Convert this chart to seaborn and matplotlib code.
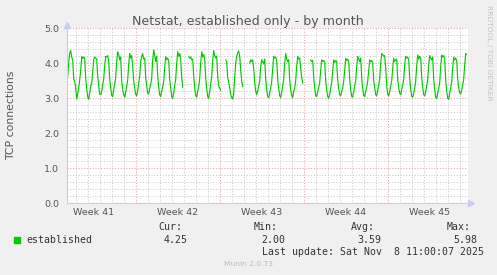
import numpy as np
import pandas as pd
import seaborn as sns
import matplotlib.pyplot as plt
from matplotlib.patches import Rectangle
from matplotlib.ticker import FixedLocator, MultipleLocator

n = np.nan
# 2-hourly averages of established TCP connections (first sample Tue 06:00, week 41)
week41 = [3.45, 3.62, 4.02, 4.30, 4.36, 4.18, 4.10, 3.55, 3.48,
          3.30, 2.98, 3.12, 3.30, 3.52, 3.80, 4.19, 4.14, 4.18, 4.15, 3.57, 3.28,
          3.05, 2.97, 3.15, 3.35, 3.42, 3.75, 4.10, 4.18, 4.15, 4.12, 3.62, 3.35,
          3.12, 3.10, 3.20, 3.38, 3.55, 3.95, 4.20, 4.18, 4.22, 4.05, 3.55, 3.30,
          3.08, 3.05, 3.25, 3.40, 3.60, 4.05, 4.33, 4.25, 4.10, 4.18, 3.50, 3.25,
          3.10, 3.03, 3.18, 3.35, 3.52, 3.98, 4.28, 4.15, 4.22, 3.90, 3.50, 3.28]
week42 = [3.12, 3.07, 3.22, 3.45, 3.62, 4.05, 4.20, 4.28, 4.12, 4.15, 3.58, 3.35,
          3.15, 3.12, 3.28, 3.40, 3.58, 4.10, 4.38, 4.22, 4.05, 4.20, 3.65, 3.32,
          3.10, 3.05, 3.20, 3.32, 3.48, 3.88, 4.19, 4.10, 4.15, 4.08, 3.55, 3.30,
          3.05, 3.00, 3.15, 3.38, 3.55, 4.00, 4.33, 4.20, 4.28, 4.10, 3.60, 3.31,
          n, n, n, n, n, 4.20, 4.15, 4.18, 4.10, 4.12, 3.62, 3.30,
          3.08, 3.03, 3.20, 3.35, 3.55, 4.02, 4.33, 4.18, 4.25, 4.12, 3.58, 3.28,
          3.05, 3.00, 3.18, 3.42, 3.60, 4.08, 4.36, 4.22, 4.15, 4.20, 3.62, 3.35]
week43 = [3.30, 3.22, n, n, n, n, 4.10, 4.05, 3.60, 3.45, 3.30, 3.10,
          3.02, 2.98, 3.15, 3.60, 4.00, 4.20, 4.30, 4.35, 4.20, 3.80, 3.50, 3.33,
          n, n, n, n, n, n, 4.00, 4.10, 4.05, 4.10, 3.85, 3.45,
          3.20, 3.10, 3.22, 3.35, 3.50, 3.90, 4.10, 4.05, 3.98, 4.12, 3.55, 3.25,
          3.05, 3.02, 3.15, 3.30, 3.48, 3.85, 4.20, 4.15, 4.18, 4.08, 3.55, 3.28,
          3.08, 3.02, 3.18, 3.35, 3.55, 4.00, 4.28, 4.12, 4.05, 4.10, 3.52, 3.25,
          3.08, 3.02, 3.20, 3.30, 3.50, 3.92, 4.20, 4.12, 4.15, 3.85, 3.60, 3.43]
week44 = [n, n, n, n, n, n, n, 4.10, 4.05, 4.08, 3.60, 3.30,
          3.07, 3.05, 3.18, 3.30, 3.45, 3.80, 4.10, 4.05, 4.08, 4.02, 3.50, 3.25,
          3.05, 3.00, 3.12, 3.28, 3.45, 3.78, 4.10, 4.02, 4.08, 4.05, 3.52, 3.28,
          3.10, 3.07, 3.20, 3.30, 3.48, 3.82, 4.14, 4.08, 4.12, 4.05, 3.55, 3.25,
          3.05, 3.03, 3.18, 3.35, 3.50, 3.90, 4.20, 4.12, 4.05, 4.15, 3.58, 3.28,
          3.08, 3.05, 3.20, 3.32, 3.48, 3.80, 4.10, 4.05, 4.08, 4.00, 3.50, 3.30,
          3.10, 3.07, 3.22, 3.38, 3.55, 4.00, 4.28, 4.25, 4.20, 4.22, 3.85, 3.35]
week45 = [3.12, 3.07, 3.20, 3.35, 3.50, 3.85, 4.14, 4.05, 4.10, 4.12, 3.55, 3.30,
          3.15, 3.10, 3.25, 3.38, 3.55, 3.95, 4.20, 4.15, 4.18, 4.10, 3.55, 3.28,
          3.05, 3.03, 3.15, 3.30, 3.50, 3.92, 4.24, 4.12, 4.20, 4.15, 3.60, 3.32,
          3.10, 3.07, 3.20, 3.35, 3.52, 3.95, 4.22, 4.15, 4.10, 4.18, 3.55, 3.25,
          3.03, 3.00, 3.15, 3.28, 3.45, 3.90, 4.24, 4.18, 4.22, 4.12, 3.52, 3.20,
          3.00, 2.97, 3.15, 3.30, 3.48, 3.88, 4.17, 4.10, 4.15, 4.08, 3.55, 3.30,
          3.15, 3.12, 3.25, 3.38, 3.55, 3.95, 4.28, 4.25]

week_labels = ["Week 41", "Week 42", "Week 43", "Week 44", "Week 45"]
y_ticks = [0.0, 1.0, 2.0, 3.0, 4.0, 5.0]
legend_name = "established"
stat_heads = ["Cur:", "Min:", "Avg:", "Max:"]
stat_vals = ["4.25", "2.00", "3.59", "5.98"]

W, H = 497, 275
sns.set_theme(style="white")
plt.rcParams['font.family'] = ['DejaVu Sans']

fig = plt.figure(figsize=(W / 100, H / 100), dpi=100, facecolor='#F0F0F0')
ax = fig.add_axes([67 / W, 1 - 203.3 / H, 401 / W, 175 / H])
ax.set_facecolor('white')

values = week41 + week42 + week43 + week44 + week45
hours = -18 + 2 * np.arange(len(values))
df = pd.DataFrame({'hour': hours, 'conn': values})
df['seg'] = df['conn'].isna().cumsum()
df = df.dropna()
sns.lineplot(data=df, x='hour', y='conn', units='seg', estimator=None,
             color='#00CC00', lw=0.85, ax=ax, legend=False)

ax.set_xlim(-17.4, 784.6)
ax.set_ylim(0, 5)
week_bounds = [120, 288, 456, 624]
ax.xaxis.set_major_locator(FixedLocator(week_bounds))
ax.xaxis.set_minor_locator(FixedLocator(list(range(0, 785, 24))))
ax.set_xticklabels([])
ax.yaxis.set_major_locator(FixedLocator(y_ticks))
ax.yaxis.set_minor_locator(MultipleLocator(0.2))
ax.set_yticklabels([f"{v:.1f}" for v in y_ticks])
ax.set_xlabel(""); ax.set_ylabel("")

ax.grid(which='minor', color='#c8c8c8', ls=(0, (1, 1.8)), lw=0.72)
ax.grid(which='major', color='#e0a0a0', ls=(0, (1, 1.8)), lw=0.72)
ax.set_axisbelow(True)

for s in ['top', 'right']:
    ax.spines[s].set_visible(False)
for s in ['left', 'bottom']:
    ax.spines[s].set_color('#c8ccf4')
    ax.spines[s].set_linewidth(0.8)

ax.tick_params(axis='both', which='major', length=2, width=0.6, color='#e08080',
               labelsize=6.8, labelcolor='#555555', pad=3.5)
ax.tick_params(axis='both', which='minor', length=1.5, width=0.6, color='#bbbbbb')

for i, lab in enumerate(week_labels):
    ax.text(36 + 168 * i, -9.4 / 175, lab, transform=ax.get_xaxis_transform(),
            ha='center', va='center', fontsize=6.8, color='#555555')

ax.plot([0], [1 + 3 / 175], marker='^', ms=4, color='#c8ccf4',
        transform=ax.transAxes, clip_on=False)
ax.plot([1 + 3 / 401], [0], marker='>', ms=4, color='#c8ccf4',
        transform=ax.transAxes, clip_on=False)


def P(x, y):
    return (x / W, 1 - y / H)


fig.text(*P(248.3, 24.5), "Netstat, established only - by month", ha='center',
         va='baseline', fontsize=9.1, color='#555555')
fig.text(*P(11, 115), "TCP connections", rotation=90, ha='center', va='center',
         fontsize=7.8, color='#555555')
fig.text(*P(489, 53), "RRDTOOL / TOBI OETIKER", rotation=270, ha='center',
         va='center', fontsize=5.4, color='#c4c4c4')

mono = dict(family='DejaVu Sans Mono', fontsize=7.1, color='#333333', va='baseline')
for xh, t in zip([158, 254, 351, 447], stat_heads):
    fig.text(*P(xh, 230.5), t, **mono)
for xv, t in zip([164, 261, 357, 453], stat_vals):
    fig.text(*P(xv, 243), t, **mono)
fig.text(*P(26.5, 243), legend_name, **mono)
fig.patches.append(Rectangle(P(14, 243), 6 / W, 6 / H, transform=fig.transFigure,
                             color='#00CC00', figure=fig))
fig.text(*P(261.5, 255), "Last update: Sat Nov  8 11:00:07 2025", **mono)
fig.text(*P(248, 266.5), "Munin 2.0.73", ha='center', va='baseline',
         fontsize=5.4, color='#bbbbbb')

fig.savefig('out.png', dpi=100, facecolor=fig.get_facecolor())
